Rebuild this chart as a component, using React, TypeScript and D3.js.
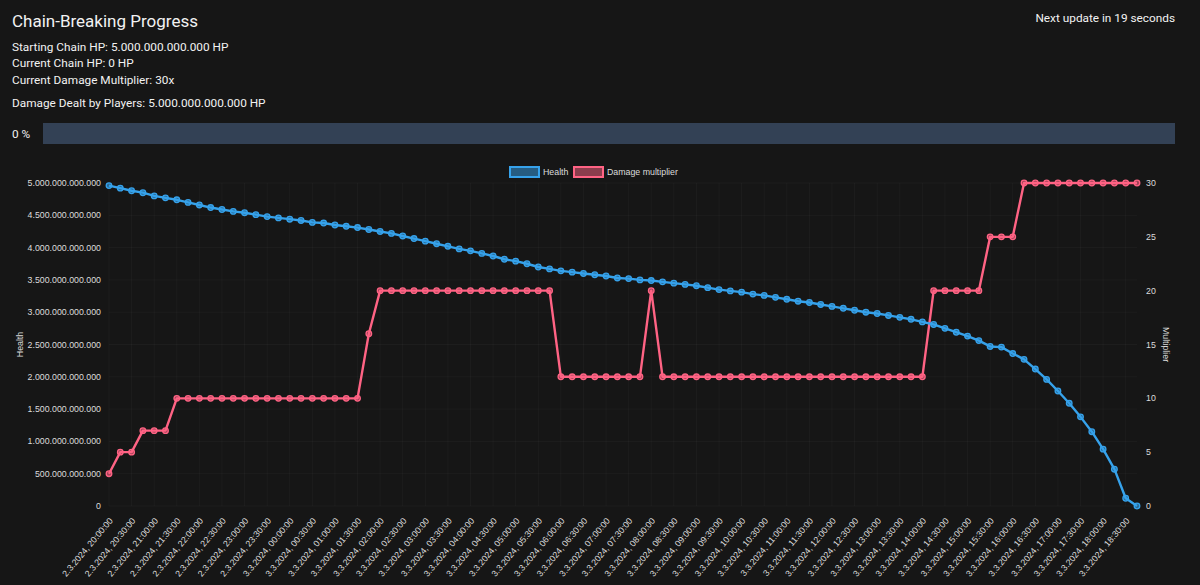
import React from 'react';
import * as d3 from 'd3';

// 15-minute samples, 2.3.2024 20:00 -> 3.3.2024 18:45
const day2Times = [
  '20:00', '20:15', '20:30', '20:45', '21:00', '21:15', '21:30', '21:45',
  '22:00', '22:15', '22:30', '22:45', '23:00', '23:15', '23:30', '23:45',
];
const day3Times = [
  '00:00', '00:15', '00:30', '00:45', '01:00', '01:15', '01:30', '01:45',
  '02:00', '02:15', '02:30', '02:45', '03:00', '03:15', '03:30', '03:45',
  '04:00', '04:15', '04:30', '04:45', '05:00', '05:15', '05:30', '05:45',
  '06:00', '06:15', '06:30', '06:45', '07:00', '07:15', '07:30', '07:45',
  '08:00', '08:15', '08:30', '08:45', '09:00', '09:15', '09:30', '09:45',
  '10:00', '10:15', '10:30', '10:45', '11:00', '11:15', '11:30', '11:45',
  '12:00', '12:15', '12:30', '12:45', '13:00', '13:15', '13:30', '13:45',
  '14:00', '14:15', '14:30', '14:45', '15:00', '15:15', '15:30', '15:45',
  '16:00', '16:15', '16:30', '16:45', '17:00', '17:15', '17:30', '17:45',
  '18:00', '18:15', '18:30', '18:45',
];
const labels = [
  ...day2Times.map(t => `2.3.2024, ${t}:00`),
  ...day3Times.map(t => `3.3.2024, ${t}:00`),
];

// chain health in trillions of HP
const health = [
  4.96, 4.92, 4.88, 4.85, 4.80, 4.77, 4.74, 4.70, 4.66, 4.62,
  4.59, 4.56, 4.54, 4.51, 4.48, 4.46, 4.44, 4.42, 4.39, 4.38,
  4.35, 4.33, 4.31, 4.28, 4.25, 4.22, 4.18, 4.14, 4.10, 4.06,
  4.02, 3.98, 3.95, 3.91, 3.87, 3.82, 3.79, 3.75, 3.70, 3.67,
  3.64, 3.62, 3.60, 3.58, 3.56, 3.53, 3.52, 3.50, 3.49, 3.47,
  3.45, 3.43, 3.41, 3.38, 3.35, 3.33, 3.31, 3.28, 3.26, 3.23,
  3.20, 3.17, 3.15, 3.12, 3.09, 3.06, 3.03, 3.00, 2.98, 2.95,
  2.92, 2.89, 2.85, 2.81, 2.75, 2.69, 2.63, 2.56, 2.47, 2.46,
  2.36, 2.27, 2.12, 1.96, 1.78, 1.59, 1.38, 1.15, 0.88, 0.57,
  0.12, 0,
];

const multiplier = [
  3, 5, 5, 7, 7, 7, 10, 10, 10, 10,
  10, 10, 10, 10, 10, 10, 10, 10, 10, 10,
  10, 10, 10, 16, 20, 20, 20, 20, 20, 20,
  20, 20, 20, 20, 20, 20, 20, 20, 20, 20,
  12, 12, 12, 12, 12, 12, 12, 12, 20, 12,
  12, 12, 12, 12, 12, 12, 12, 12, 12, 12,
  12, 12, 12, 12, 12, 12, 12, 12, 12, 12,
  12, 12, 12, 20, 20, 20, 20, 20, 25, 25,
  25, 30, 30, 30, 30, 30, 30, 30, 30, 30,
  30, 30,
];

const healthTicks = [0, 0.5, 1, 1.5, 2, 2.5, 3, 3.5, 4, 4.5, 5];
const multTicks = [0, 5, 10, 15, 20, 25, 30];

const headerLines = [
  'Starting Chain HP: 5.000.000.000.000 HP',
  'Current Chain HP: 0 HP',
  'Current Damage Multiplier: 30x',
];

const BLUE = 'rgb(54, 162, 235)';
const RED = 'rgb(255, 99, 132)';
const TICK = '#dcdcdc';
const UI_FONT = 'Roboto, "Open Sans", sans-serif';
const CHART_FONT = '"Liberation Sans", Arial, sans-serif';
const FS = 8.8;
const SUB = 11.8;

const locale = d3.formatLocale({ decimal: ',', thousands: '.', grouping: [3], currency: ['', ''] });
const fmt = locale.format(',.0f');

const W = 1200;
const H = 585;
const left = 109;
const right = 1137;
const top = 183;
const bottom = 506;

const App: React.FC = () => {
  const x = d3.scalePoint<string>().domain(labels).range([left, right]);
  const yL = d3.scaleLinear().domain([0, 5]).range([bottom, top]);
  const yR = d3.scaleLinear().domain([0, 30]).range([bottom, top]);

  const healthLine = d3.line<number>()
    .x((_, i) => x(labels[i])!)
    .y(d => yL(d));
  const multLine = d3.line<number>()
    .x((_, i) => x(labels[i])!)
    .y(d => yR(d));

  const shownTicks = labels.filter((_, i) => i % 2 === 0);

  return (
    <div style={{ position: 'fixed', inset: 0, background: '#161616' }}>
      <svg width={W} height={H} style={{ display: 'block' }}>
        <rect width={W} height={H} fill="#161616" />

        {/* header */}
        <g fontFamily={UI_FONT} fill="#f2f2f2">
          <text x={12} y={27} fontSize={17}>Chain-Breaking Progress</text>
          <text x={1175} y={22} fontSize={SUB} textAnchor="end">Next update in 19 seconds</text>
          {headerLines.map((t, i) => (
            <text key={t} x={12} y={50.5 + i * 16.8} fontSize={SUB}>{t}</text>
          ))}
          <text x={12} y={106.5} fontSize={SUB}>Damage Dealt by Players: 5.000.000.000.000 HP</text>
          <text x={12} y={137.5} fontSize={SUB}>0 %</text>
        </g>
        <rect x={43} y={123} width={1132} height={21} fill="#334155" />

        {/* grid */}
        <g stroke="rgba(255,255,255,0.03)">
          {healthTicks.map(t => (
            <line key={t} x1={left} x2={right} y1={yL(t)} y2={yL(t)} />
          ))}
          {shownTicks.map(l => (
            <line key={l} x1={x(l)} x2={x(l)} y1={top} y2={bottom} />
          ))}
        </g>

        {/* left axis */}
        <g fontFamily={CHART_FONT} fontSize={FS} fill={TICK}>
          {healthTicks.map(t => (
            <text key={t} x={101} y={yL(t)} dy="0.35em" textAnchor="end">{fmt(t * 1e12)}</text>
          ))}
          <text transform={`translate(20,${(top + bottom) / 2}) rotate(-90)`} textAnchor="middle" dy="0.35em">Health</text>
        </g>

        {/* right axis */}
        <g fontFamily={CHART_FONT} fontSize={FS} fill={TICK}>
          {multTicks.map(t => (
            <text key={t} x={1146} y={yR(t)} dy="0.35em">{t}</text>
          ))}
          <text transform={`translate(1166,${(top + bottom) / 2}) rotate(90)`} textAnchor="middle" dy="0.35em">Multiplier</text>
        </g>

        {/* x axis */}
        <g fontFamily={CHART_FONT} fontSize={FS} fill={TICK}>
          {shownTicks.map(l => (
            <text key={l} transform={`translate(${x(l)! + 2},${519}) rotate(-50)`} textAnchor="end" dy="0.35em">{l}</text>
          ))}
        </g>

        {/* series */}
        <path d={multLine(multiplier)!} fill="none" stroke={RED} strokeWidth={2.4} strokeLinejoin="round" />
        {multiplier.map((v, i) => (
          <circle key={i} cx={x(labels[i])} cy={yR(v)} r={2.8} fill="rgba(255,99,132,0.6)" stroke={RED} strokeWidth={1.3} />
        ))}
        <path d={healthLine(health)!} fill="none" stroke={BLUE} strokeWidth={2.4} strokeLinejoin="round" />
        {health.map((v, i) => (
          <circle key={i} cx={x(labels[i])} cy={yL(v)} r={2.8} fill="rgba(54,162,235,0.6)" stroke={BLUE} strokeWidth={1.3} />
        ))}

        {/* legend */}
        <g fontFamily={CHART_FONT} fontSize={FS} fill={TICK}>
          <rect x={510} y={167} width={29} height={10} fill="rgba(54,162,235,0.5)" stroke={BLUE} strokeWidth={2} />
          <text x={543} y={172} dy="0.35em">Health</text>
          <rect x={574} y={167} width={29} height={10} fill="rgba(255,99,132,0.5)" stroke={RED} strokeWidth={2} />
          <text x={607} y={172} dy="0.35em">Damage multiplier</text>
        </g>
      </svg>
    </div>
  );
};

export default App;
